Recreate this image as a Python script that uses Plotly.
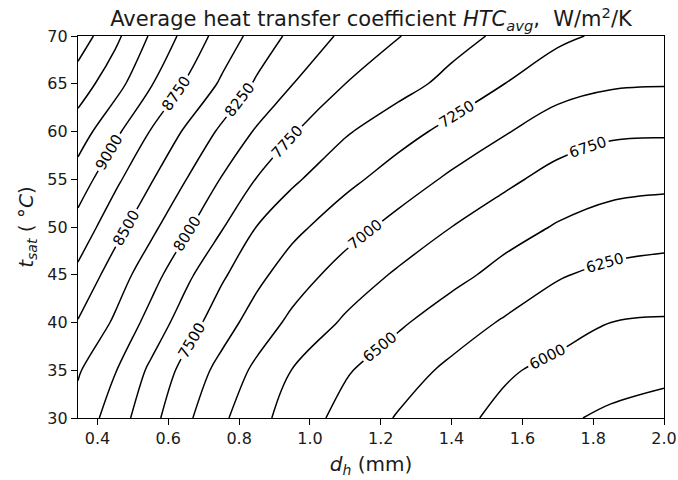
import plotly.graph_objects as go

# Hydraulic diameter d_h (mm) grid and saturation temperature t_sat (°C) grid
d_h = [0.345, 0.45, 0.55, 0.65, 0.75, 0.85, 0.95, 1.1, 1.25, 1.4, 1.55, 1.7, 1.85, 2.0]
t_sat = [30, 35, 40, 45, 50, 55, 60, 65, 70]

# Average HTC (W/m2/K), one list per t_sat row
htc_30 = [8160, 7881, 7581, 7299, 7047, 6828, 6644, 6417, 6230, 6078, 5931, 5788, 5708, 5650]
htc_35 = [8275, 8012, 7703, 7414, 7172, 6945, 6744, 6525, 6359, 6198, 6034, 5930, 5850, 5810]
htc_40 = [8485, 8212, 7912, 7620, 7363, 7137, 6944, 6714, 6535, 6372, 6224, 6112, 6000, 5977]
htc_45 = [8692, 8379, 8103, 7809, 7539, 7315, 7123, 6895, 6715, 6571, 6423, 6270, 6190, 6160]
htc_50 = [8908, 8592, 8313, 8043, 7772, 7495, 7319, 7102, 6918, 6750, 6600, 6480, 6400, 6357]
htc_55 = [9137, 8805, 8524, 8253, 7988, 7740, 7542, 7319, 7131, 6957, 6805, 6660, 6583, 6564]
htc_60 = [9377, 9056, 8739, 8464, 8206, 7970, 7772, 7527, 7345, 7177, 7018, 6875, 6790, 6778]
htc_65 = [9630, 9347, 9022, 8729, 8466, 8215, 8006, 7750, 7595, 7425, 7250, 7095, 7030, 7014]
htc_70 = [9885, 9559, 9225, 8923, 8652, 8407, 8192, 7948, 7759, 7597, 7446, 7300, 7200, 7185]

htc = [htc_30, htc_35, htc_40, htc_45, htc_50, htc_55, htc_60, htc_65, htc_70]

level_start, level_end, level_step = 5750, 9750, 250

x_ticks = [0.4, 0.6, 0.8, 1.0, 1.2, 1.4, 1.6, 1.8, 2.0]
x_tick_labels = ["0.4", "0.6", "0.8", "1.0", "1.2", "1.4", "1.6", "1.8", "2.0"]
y_ticks = [30, 35, 40, 45, 50, 55, 60, 65, 70]
y_tick_labels = ["30", "35", "40", "45", "50", "55", "60", "65", "70"]

FONT = "DejaVu Sans"
TXT = "#1a1a1a"

FIG_W, FIG_H = 678, 480

fig = go.Figure(
    go.Contour(
        x=d_h,
        y=t_sat,
        z=htc,
        contours=dict(
            coloring="none",
            start=level_start,
            end=level_end,
            size=level_step,
            showlabels=True,
            labelfont=dict(family=FONT, size=15, color="black"),
        ),
        line=dict(color="black", width=1.5, smoothing=1.0),
        showscale=False,
        hoverinfo="skip",
    )
)

fig.update_layout(
    width=FIG_W,
    height=FIG_H,
    margin=dict(l=78, r=14, t=36, b=62, pad=0),
    paper_bgcolor="white",
    plot_bgcolor="white",
    font=dict(family=FONT, size=16, color=TXT),
    title=dict(
        text="Average heat transfer coefficient <i>HTC</i><sub><i>avg</i></sub>,  W/m<sup>2</sup>/K",
        x=0.5,
        xref="paper",
        xanchor="center",
        y=1 - 19 / FIG_H,
        yref="container",
        yanchor="middle",
        font=dict(family=FONT, size=21, color=TXT),
    ),
    xaxis=dict(
        range=[0.345, 2.0],
        tickvals=x_ticks,
        ticktext=x_tick_labels,
        ticks="outside",
        ticklen=6,
        tickcolor="black",
        showline=True,
        linecolor="black",
        linewidth=1.2,
        mirror=True,
        showgrid=False,
        zeroline=False,
        automargin=False,
        tickfont=dict(family=FONT, size=16, color=TXT),
        title=dict(text="<i>d</i><sub><i>h</i></sub> (mm)", font=dict(family=FONT, size=20, color=TXT), standoff=9),
    ),
    yaxis=dict(
        range=[30, 70],
        tickvals=y_ticks,
        ticktext=y_tick_labels,
        ticks="outside",
        ticklen=6,
        tickcolor="black",
        showline=True,
        linecolor="black",
        linewidth=1.2,
        mirror=True,
        showgrid=False,
        zeroline=False,
        automargin=False,
        tickfont=dict(family=FONT, size=16, color=TXT),
        title=dict(text="<i>t</i><sub><i>sat</i></sub> ( °<i>C</i>)", font=dict(family=FONT, size=20, color=TXT), standoff=8),
    ),
)

# remove the browser's default 8 px page margin so the figure fills the window exactly
fig.write_html(
    "out.html",
    config={"displayModeBar": False},
    post_script="document.body.style.margin='0';",
)
